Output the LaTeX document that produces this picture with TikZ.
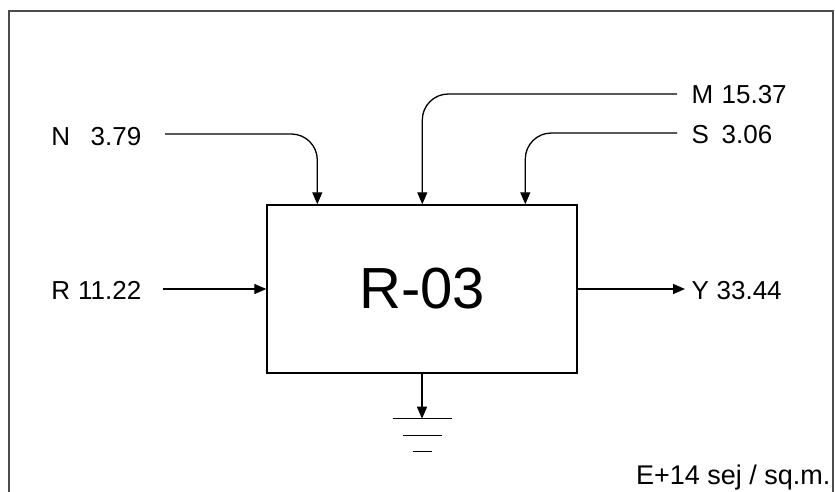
\documentclass[tikz,border=0pt]{standalone}
\usepackage{fontspec}
\setmainfont{Liberation Sans}
\usetikzlibrary{arrows.meta,calc}
\begin{document}
\begin{tikzpicture}[x=1pt,y=-1pt, line width=1.3pt,
  >={Triangle[length=12pt,width=10pt]},
  lbl/.style={font=\fontsize{26}{26}\selectfont, inner sep=0pt},
  flow/.style={->, rounded corners=26pt}]
\useasboundingbox (0,0) rectangle (835,492);
\draw[line width=2pt, black!70] (9,492) -- (9,11) -- (833,11) -- (833,492);
\node[draw, line width=1.4pt, minimum width=310pt, minimum height=168pt, inner sep=0pt,
  font=\fontsize{58}{58}\selectfont] (box) at (422,289) {R-03};
% labels
\node[lbl, anchor=base east] (N) at (142,146) {\makebox[90pt]{N\hfill 3.79}};
\node[lbl, anchor=base east] (R) at (142,299) {\makebox[90pt]{R\hfill 11.22}};
\node[lbl, anchor=base west] (M) at (691,104) {\makebox[30pt][l]{M}15.37};
\node[lbl, anchor=base west] (S) at (691,143) {\makebox[30pt][l]{S}3.06};
\node[lbl, anchor=base west] (Y) at (691,299) {\makebox[25pt][l]{Y}33.44};
\node[font=\fontsize{27}{27}\selectfont, inner sep=0pt, anchor=base east] (E) at (831,484) {E+14 sej / sq.m.};
% line ends
\coordinate (nS) at (165,134);
\coordinate (mS) at (677,94);
\coordinate (sS) at (677,133);
\coordinate (rS) at (163,289);
\coordinate (yE) at (685,289);
% inflows
\draw[flow] (nS) -| ($(box.north west)+(51,0)$);
\draw[flow] (mS) -| ($(box.north west)+(156,0)$);
\draw[flow] (sS) -| ($(box.north west)+(259,0)$);
\draw[->] (rS) -- (box.west);
\draw[->] (box.east) -- (yE);
% ground
\draw[->] (box.south) -- ++(0,45) coordinate (g);
\draw (g) ++(-29.5,0) -- ++(59,0);
\draw (g) ++(-19.5,17) -- ++(39,0);
\draw (g) ++(-9.5,33) -- ++(19,0);
\end{tikzpicture}
\end{document}
